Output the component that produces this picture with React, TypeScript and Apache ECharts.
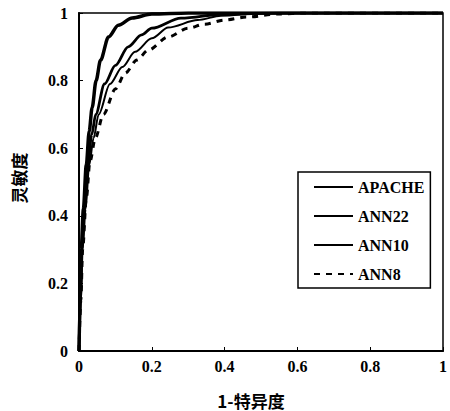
import React, { useEffect, useRef } from "react";
import * as echarts from "echarts";

const seriesNames = ["APACHE", "ANN22", "ANN10", "ANN8"];
const xTicks = [0, 0.2, 0.4, 0.6, 0.8, 1];
const yTicks = [0, 0.2, 0.4, 0.6, 0.8, 1];

const apache: number[][] = [
  [0, 0], [0.003, 0.15], [0.006, 0.3], [0.012, 0.42], [0.02, 0.55], [0.028, 0.65],
  [0.036, 0.72], [0.047, 0.8], [0.059, 0.86], [0.081, 0.929], [0.108, 0.964],
  [0.146, 0.985], [0.2, 0.997], [0.3, 1], [1, 1],
];
const ann10: number[][] = [
  [0, 0], [0.004, 0.15], [0.008, 0.3], [0.015, 0.42], [0.024, 0.55], [0.035, 0.64],
  [0.046, 0.7], [0.07, 0.79], [0.1, 0.845], [0.135, 0.9], [0.172, 0.935],
  [0.2, 0.955], [0.28, 0.985], [0.4, 0.997], [0.55, 1], [1, 1],
];
const ann22: number[][] = [
  [0, 0], [0.005, 0.15], [0.01, 0.3], [0.018, 0.42], [0.028, 0.55], [0.04, 0.63],
  [0.054, 0.7], [0.085, 0.79], [0.119, 0.84], [0.154, 0.885], [0.2, 0.925],
  [0.245, 0.957], [0.326, 0.979], [0.39, 0.992], [0.5, 0.999], [0.6, 1], [1, 1],
];
const ann8: number[][] = [
  [0, 0], [0.005, 0.15], [0.01, 0.3], [0.02, 0.45], [0.03, 0.56], [0.045, 0.63],
  [0.067, 0.7], [0.1, 0.775], [0.127, 0.822], [0.159, 0.861], [0.19, 0.89],
  [0.245, 0.929], [0.3, 0.955], [0.345, 0.967], [0.4, 0.979], [0.46, 0.988],
  [0.55, 0.997], [0.62, 1], [1, 1],
];

const serif = "Times New Roman, Liberation Serif, DejaVu Serif, serif";
const cjk = "Noto Sans CJK SC";

export default function App() {
  const ref = useRef<HTMLDivElement>(null);
  useEffect(() => {
    if (!ref.current) return;
    const chart = echarts.init(ref.current, undefined, { renderer: "svg" });
    const mk = (name: string, data: number[][], width: number, type: any) => ({
      name,
      type: "line",
      data,
      symbol: "none",
      smooth: 0.3,
      smoothMonotone: "x",
      lineStyle: { color: "#000", width, type },
      itemStyle: { color: "#000" },
    });
    chart.setOption({
      animation: false,
      backgroundColor: "#fff",
      grid: {
        left: 79,
        right: 1,
        top: 13,
        bottom: 60,
        show: true,
        borderColor: "#000",
        borderWidth: 1.5,
      },
      xAxis: {
        type: "value",
        min: xTicks[0],
        max: xTicks[xTicks.length - 1],
        interval: 0.2,
        axisLine: { show: true, lineStyle: { color: "#000", width: 2 } },
        axisTick: { show: true, inside: true, length: 4, lineStyle: { color: "#000" } },
        splitLine: { show: false },
        axisLabel: {
          color: "#000",
          fontFamily: serif,
          fontWeight: "bold",
          fontSize: 16,
          margin: 7,
        },
      },
      yAxis: {
        type: "value",
        min: yTicks[0],
        max: yTicks[yTicks.length - 1],
        interval: 0.2,
        axisLine: { show: true, lineStyle: { color: "#000", width: 2 } },
        axisTick: { show: true, inside: true, length: 4, lineStyle: { color: "#000" } },
        splitLine: { show: false },
        axisLabel: {
          color: "#000",
          fontFamily: serif,
          fontWeight: "bold",
          fontSize: 16,
          margin: 11,
        },
      },
      legend: {
        data: seriesNames,
        orient: "vertical",
        left: 298,
        top: 172,
        padding: [7, 6, 6, 15],
        itemWidth: 39,
        itemHeight: 14,
        itemGap: 13,
        borderColor: "#000",
        borderWidth: 1.5,
        backgroundColor: "#fff",
        itemStyle: { opacity: 0 },
        textStyle: {
          color: "#000",
          fontFamily: serif,
          fontWeight: "bold",
          fontSize: 16,
        },
      },
      graphic: [
        {
          type: "text",
          x: 251,
          y: 400,
          style: {
            text: "1-特异度",
            font: `bold 17px "${cjk}"`,
            fill: "#000",
            align: "center",
            verticalAlign: "middle",
          },
        },
        {
          type: "text",
          x: 18,
          y: 178,
          rotation: Math.PI / 2,
          style: {
            text: "灵敏度",
            font: `bold 17px "${cjk}"`,
            fill: "#000",
            align: "center",
            verticalAlign: "middle",
          },
        },
      ],
      series: [
        mk("APACHE", apache, 3.5, "solid"),
        mk("ANN22", ann22, 2, "solid"),
        mk("ANN10", ann10, 2.8, "solid"),
        mk("ANN8", ann8, 3, [6, 6]),
      ],
    });
    return () => chart.dispose();
  }, []);
  return (
    <div
      ref={ref}
      style={{ position: "absolute", left: 0, top: 0, width: 450, height: 411 }}
    />
  );
}
